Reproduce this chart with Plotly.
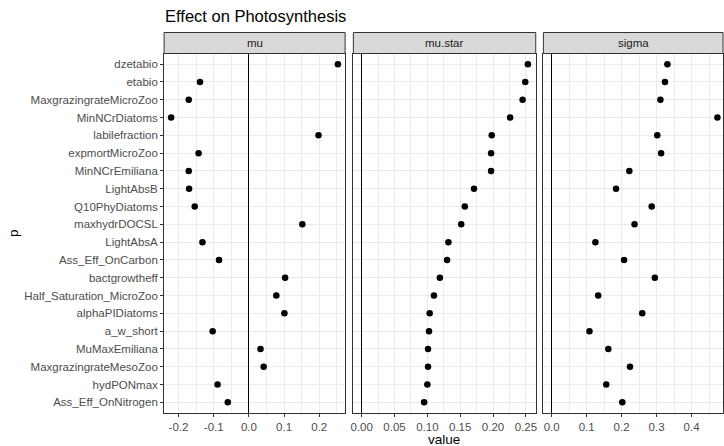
import plotly.graph_objects as go

W, H = 724, 446

params = ["dzetabio", "etabio", "MaxgrazingrateMicroZoo", "MinNCrDiatoms", "labilefraction",
          "expmortMicroZoo", "MinNCrEmiliana", "LightAbsB", "Q10PhyDiatoms", "maxhydrDOCSL",
          "LightAbsA", "Ass_Eff_OnCarbon", "bactgrowtheff", "Half_Saturation_MicroZoo",
          "alphaPIDiatoms", "a_w_short", "MuMaxEmiliana", "MaxgrazingrateMesoZoo",
          "hydPONmax", "Ass_Eff_OnNitrogen"]

mu = [0.253, -0.139, -0.171, -0.221, 0.198, -0.143, -0.171, -0.170, -0.154, 0.152,
      -0.132, -0.085, 0.103, 0.078, 0.101, -0.103, 0.033, 0.042, -0.089, -0.060]
mu_star = [0.253, 0.249, 0.245, 0.226, 0.198, 0.197, 0.197, 0.171, 0.157, 0.1515,
           0.132, 0.130, 0.119, 0.110, 0.1035, 0.1025, 0.101, 0.101, 0.100, 0.095]
sigma = [0.331, 0.324, 0.311, 0.474, 0.302, 0.313, 0.222, 0.184, 0.286, 0.237,
         0.125, 0.207, 0.295, 0.133, 0.259, 0.108, 0.162, 0.224, 0.156, 0.202]

panels = ["mu", "mu.star", "sigma"]
series = [mu, mu_star, sigma]

tick_vals = [[-0.2, -0.1, 0.0, 0.1, 0.2],
             [0.0, 0.05, 0.10, 0.15, 0.20, 0.25],
             [0.0, 0.1, 0.2, 0.3, 0.4]]
tick_text = [["-0.2", "-0.1", "0.0", "0.1", "0.2"],
             ["0.00", "0.05", "0.10", "0.15", "0.20", "0.25"],
             ["0.0", "0.1", "0.2", "0.3", "0.4"]]
minor_vals = [[-0.25, -0.15, -0.05, 0.05, 0.15, 0.25],
              [0.025, 0.075, 0.125, 0.175, 0.225],
              [0.05, 0.15, 0.25, 0.35, 0.45]]
x_ranges = [[-0.241, 0.2735], [-0.0127, 0.265], [-0.0237, 0.490]]

# panel pixel geometry
px_x = [(162, 344), (352.3, 535.7), (543.4, 724)]
top_px, bot_px = 53.5, 413
strip_top = 32.5

FONT = "Liberation Sans, Arial, sans-serif"
fig = go.Figure()

ydom = [(H - bot_px) / H, (H - top_px) / H]
for i, (name, vals) in enumerate(zip(panels, series)):
    sfx = "" if i == 0 else str(i + 1)
    fig.add_trace(go.Scatter(
        x=vals, y=params, mode="markers",
        marker=dict(color="black", size=6.5),
        xaxis="x" + sfx, yaxis="y" + sfx, showlegend=False,
        hoverinfo="x+y"))
    xa = dict(
        domain=[px_x[i][0] / W, px_x[i][1] / W], anchor="y" + sfx,
        range=x_ranges[i], tickmode="array", tickvals=tick_vals[i], ticktext=tick_text[i],
        showgrid=True, gridcolor="#EBEBEB", gridwidth=1.1,
        minor=dict(tickvals=minor_vals[i], showgrid=True, gridcolor="#EBEBEB", gridwidth=0.6, ticks=""),
        zeroline=True, zerolinecolor="black", zerolinewidth=1.3,
        showline=True, mirror=True, linecolor="#333333", linewidth=1,
        ticks="outside", ticklen=3, tickcolor="#333333", tickwidth=1,
        tickfont=dict(family=FONT, size=11.5, color="#4D4D4D"),
        fixedrange=True)
    ya = dict(
        domain=ydom, anchor="x" + sfx,
        type="category", categoryorder="array", categoryarray=params,
        range=[len(params) - 0.4, -0.6],
        showgrid=True, gridcolor="#EBEBEB", gridwidth=1.1, zeroline=False,
        showline=True, mirror=True, linecolor="#333333", linewidth=1,
        ticks="outside" if i == 0 else "", ticklen=3, tickcolor="#333333",
        showticklabels=(i == 0),
        tickfont=dict(family=FONT, size=11.5, color="#4D4D4D"),
        fixedrange=True)
    if i > 0:
        ya["matches"] = "y"
    fig.update_layout(**{"xaxis" + sfx: xa, "yaxis" + sfx: ya})

    # strip
    fig.add_shape(type="rect", xref="paper", yref="paper",
                  x0=px_x[i][0] / W, x1=px_x[i][1] / W,
                  y0=(H - top_px) / H, y1=(H - strip_top) / H,
                  fillcolor="#D9D9D9", line=dict(color="#333333", width=1), layer="above")
    fig.add_annotation(x=(px_x[i][0] + px_x[i][1]) / 2 / W, y=(H - (strip_top + top_px) / 2) / H,
                       xref="paper", yref="paper", text=name, showarrow=False,
                       font=dict(family=FONT, size=11.5, color="#1A1A1A"),
                       xanchor="center", yanchor="middle")

fig.add_annotation(x=161 / W, y=(H - 16) / H, xref="paper", yref="paper",
                   text="Effect on Photosynthesis", showarrow=False,
                   font=dict(family=FONT, size=16.5, color="black"),
                   xanchor="left", yanchor="middle")
fig.add_annotation(x=443 / W, y=(H - 439) / H, xref="paper", yref="paper",
                   text="value", showarrow=False,
                   font=dict(family=FONT, size=13.5, color="black"),
                   xanchor="center", yanchor="middle")
fig.add_annotation(x=10 / W, y=(H - 233) / H, xref="paper", yref="paper",
                   text="p", showarrow=False, textangle=-90,
                   font=dict(family=FONT, size=13.5, color="black"),
                   xanchor="center", yanchor="middle")

fig.update_layout(width=W, height=H, margin=dict(l=0, r=0, t=0, b=0),
                  paper_bgcolor="white", plot_bgcolor="white",
                  font=dict(family=FONT))
fig.write_html("out.html", config={"displayModeBar": False})
